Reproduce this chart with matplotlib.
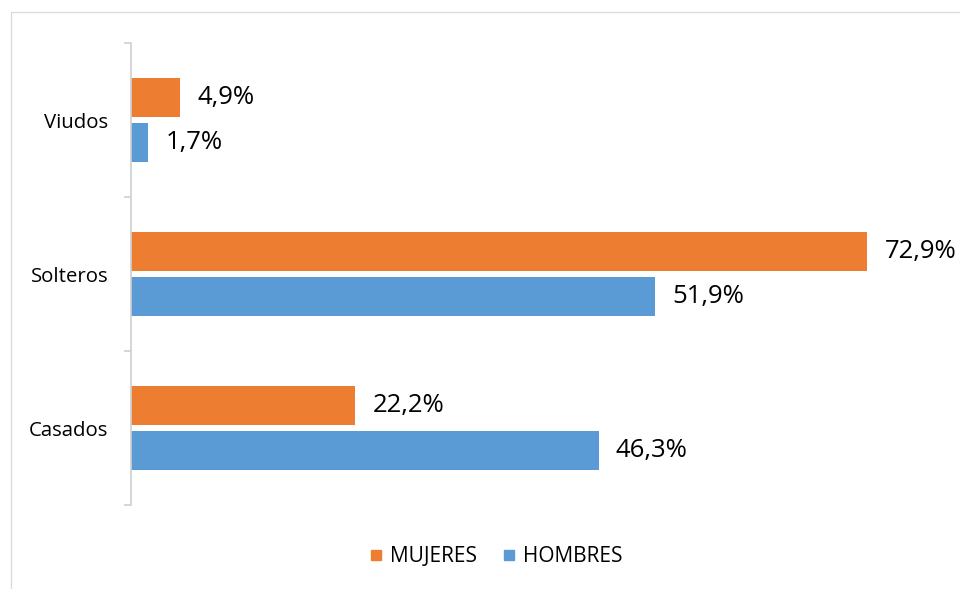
import matplotlib
matplotlib.use("Agg")
import matplotlib.pyplot as plt
from matplotlib.lines import Line2D
from matplotlib.patches import Rectangle
import numpy as np

plt.rcParams['font.family'] = ['Open Sans', 'DejaVu Sans']

categories = ["Casados", "Solteros", "Viudos"]
mujeres = [22.2, 72.9, 4.9]
hombres = [46.3, 51.9, 1.7]
series_names = ["MUJERES", "HOMBRES"]
colors = ["#ED7D31", "#5B9BD5"]

W, H = 960, 589
fig = plt.figure(figsize=(W / 100, H / 100), dpi=100)

# outer chart frame (top and left edges visible)
fig.patches.append(Rectangle((11 / W, -0.5), 2.0, 1.5 - 12 / H,
                             transform=fig.transFigure, fill=False,
                             edgecolor="#D9D9D9", linewidth=0.9))

ax = fig.add_axes([131 / W, (H - 505) / H, 808 / W, 462 / H])

y = np.arange(len(categories))
bar_h = 0.253
offset = 0.143

b1 = ax.barh(y + offset, mujeres, height=bar_h, color=colors[0], label=series_names[0])
b2 = ax.barh(y - offset, hombres, height=bar_h, color=colors[1], label=series_names[1])

for bars, vals in ((b1, mujeres), (b2, hombres)):
    for rect, v in zip(bars, vals):
        ax.annotate(f"{v:.1f}%".replace(".", ","),
                    xy=(rect.get_width(), rect.get_y() + rect.get_height() / 2),
                    xytext=(12.5, 0), textcoords="offset points",
                    ha="left", va="center", fontsize=18.5, color="#000000")

ax.set_xlim(0, 80)
ax.set_ylim(-0.5, len(categories) - 0.5)

for s in ("top", "right", "bottom"):
    ax.spines[s].set_visible(False)
ax.spines["left"].set_color("#D0D0D0")
ax.spines["left"].set_linewidth(1.2)

ax.set_xticks([])
ax.set_yticks(np.arange(-0.5, len(categories), 1.0))
ax.set_yticklabels([])
ax.tick_params(axis="y", which="major", length=5, width=1.2, color="#D0D0D0", direction="out")
ax.set_yticks(y, minor=True)
ax.set_yticklabels(categories, minor=True, fontsize=14.7, color="#000000")
ax.tick_params(axis="y", which="minor", length=0, pad=16.5)

handles = [Line2D([], [], marker="s", linestyle="none", markersize=6.5,
                  markerfacecolor=c, markeredgecolor=c) for c in colors]
fig.legend(handles, series_names, loc="center",
           bbox_to_anchor=(496 / W, 1 - 557 / H), ncol=2, frameon=False,
           fontsize=15, handlelength=0.6, handletextpad=0.35, columnspacing=1.25)

fig.savefig("out.png", dpi=100)
